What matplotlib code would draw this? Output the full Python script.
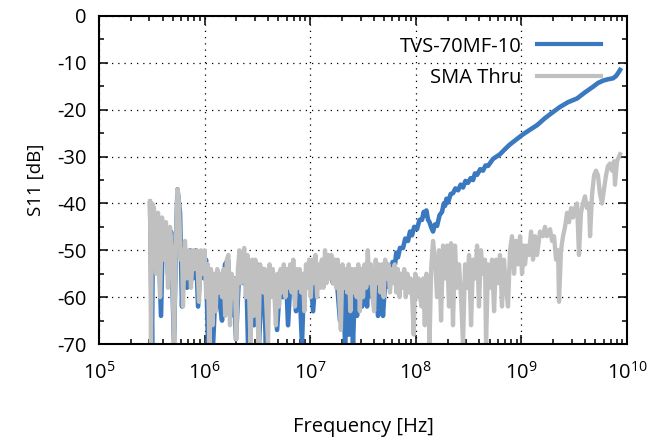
import numpy as np
import matplotlib
matplotlib.use("Agg")
import matplotlib.pyplot as plt
from matplotlib.ticker import LogLocator, MultipleLocator, NullFormatter

plt.rcParams['font.family'] = ['Open Sans', 'DejaVu Sans']
plt.rcParams['mathtext.fontset'] = 'custom'
plt.rcParams['mathtext.rm'] = 'Open Sans'
plt.rcParams['axes.unicode_minus'] = False

# SMA Thru trace (log10 of frequency in Hz, S11 in dB)
gray_logf = [
    5.483, 5.492, 5.502, 5.521, 5.540, 5.559, 5.578, 5.597, 5.616, 5.634,
    5.653, 5.672, 5.691, 5.710, 5.729, 5.743, 5.758, 5.772, 5.786, 5.795,
    5.814, 5.833, 5.852, 5.871, 5.890, 5.909, 5.928, 5.947, 5.966, 5.985,
    6.000, 6.015, 6.030, 6.045, 6.060, 6.075, 6.090, 6.105, 6.120, 6.135,
    6.150, 6.165, 6.180, 6.195, 6.210, 6.225, 6.240, 6.255, 6.270, 6.285,
    6.300, 6.315, 6.330, 6.345, 6.360, 6.375, 6.390, 6.405, 6.420, 6.435,
    6.450, 6.465, 6.480, 6.495, 6.510, 6.525, 6.540, 6.555, 6.570, 6.585,
    6.600, 6.615, 6.630, 6.645, 6.660, 6.675, 6.690, 6.705, 6.720, 6.735,
    6.750, 6.765, 6.780, 6.795, 6.810, 6.825, 6.840, 6.855, 6.870, 6.885,
    6.900, 6.915, 6.930, 6.945, 6.960, 6.975, 6.990, 7.005, 7.020, 7.035,
    7.050, 7.065, 7.080, 7.095, 7.110, 7.125, 7.140, 7.155, 7.170, 7.185,
    7.200, 7.215, 7.230, 7.245, 7.260, 7.275, 7.290, 7.305, 7.320, 7.335,
    7.350, 7.365, 7.380, 7.395, 7.410, 7.425, 7.440, 7.455, 7.470, 7.485,
    7.500, 7.515, 7.530, 7.545, 7.560, 7.575, 7.590, 7.605, 7.620, 7.635,
    7.650, 7.665, 7.680, 7.695, 7.710, 7.725, 7.740, 7.755, 7.770, 7.785,
    7.800, 7.815, 7.830, 7.845, 7.860, 7.875, 7.890, 7.905, 7.920, 7.935,
    7.950, 7.965, 7.980, 7.995, 8.010, 8.025, 8.040, 8.055, 8.070, 8.085,
    8.100, 8.115, 8.130, 8.145, 8.163,
    8.182, 8.201, 8.220, 8.239, 8.258, 8.277, 8.295, 8.314, 8.333, 8.352,
    8.371, 8.390, 8.409, 8.428, 8.447, 8.466, 8.485, 8.504, 8.523, 8.542,
    8.561, 8.580, 8.598, 8.617, 8.636, 8.655, 8.665, 8.684, 8.703, 8.722,
    8.741, 8.759, 8.778, 8.797, 8.816, 8.835, 8.854, 8.873, 8.892, 8.911,
    8.930, 8.949, 8.968, 8.987, 9.006, 9.025, 9.034, 9.053, 9.072, 9.091,
    9.110, 9.129, 9.148, 9.176, 9.205, 9.223, 9.242, 9.271, 9.290, 9.309,
    9.328, 9.347, 9.356, 9.375, 9.394, 9.413, 9.432, 9.451, 9.470, 9.489,
    9.508, 9.527, 9.545, 9.564, 9.583, 9.602, 9.621, 9.640, 9.650, 9.669,
    9.688, 9.706, 9.725, 9.744, 9.763, 9.782, 9.801, 9.820, 9.839, 9.858,
    9.877, 9.886, 9.905, 9.924, 9.934,
]
gray_db = [
    -39.5, -70, -40, -41, -55, -42, -60, -43, -52, -44,
    -58, -45, -50, -70, -48, -37, -40, -52, -50, -62,
    -48, -56, -50, -58, -50, -54, -50, -61, -50, -55,
    -50, -60, -53, -70, -54, -66, -55, -63, -54, -59,
    -55, -60, -54, -64, -52, -51, -66, -55, -60, -56,
    -69, -54, -50, -57, -53, -49.5, -60, -51, -58, -70,
    -52, -64, -52, -58, -70, -53, -55, -59, -54, -62,
    -70, -53, -60, -54, -59, -66, -55, -62, -54, -59,
    -53, -60, -54, -58, -53, -59, -52, -62, -54, -58,
    -54, -59, -55, -63, -53, -58, -52, -60, -52, -57,
    -51, -60, -53, -58, -52, -58, -50, -57, -51, -56,
    -51, -57, -52, -58, -52, -60, -67, -53, -58, -54,
    -59, -53, -63, -54, -59, -54, -60, -53, -63, -54,
    -60, -53, -58, -50, -57, -53, -60, -63, -52, -57,
    -53, -59, -53, -60, -52, -56, -53, -59, -54, -57,
    -53, -59, -54, -60, -55, -58, -54, -60, -55, -59,
    -56, -60, -68, -55, -60, -56, -60, -62, -56, -66,
    -55, -57, -70, -54, -48,
    -52, -60, -50, -65, -49, -56, -49, -62, -48.5, -66,
    -49, -58, -53, -60, -70, -53, -58, -51, -66, -52,
    -56, -49, -62, -50, -55, -52, -70, -53, -58, -52,
    -63, -52, -57, -51, -62, -52, -58, -62, -50, -47,
    -55, -48, -53, -47, -55, -49, -53, -49, -51, -46,
    -52, -47, -51, -46, -47, -45, -47, -45.5, -48, -47,
    -52, -50, -61, -50, -47, -45, -42, -44, -41, -43,
    -41, -40, -51, -42, -40, -38.5, -41, -40, -47, -38,
    -34, -33, -34, -38, -40, -37, -34, -32, -31.5, -33,
    -31, -36, -31, -30, -29.5,
]

# TVS-70MF-10 trace
blue_logf = [
    5.483, 5.502, 5.511, 5.540, 5.559, 5.587, 5.606, 5.634, 5.653, 5.682,
    5.710, 5.729, 5.743, 5.767, 5.786, 5.805, 5.833, 5.862, 5.890, 5.919,
    5.938, 5.966, 5.994, 6.013, 6.032, 6.051, 6.080, 6.108, 6.136, 6.165,
    6.193, 6.222, 6.250, 6.278, 6.297, 6.326, 6.345, 6.364, 6.392, 6.411,
    6.439, 6.468, 6.496, 6.515, 6.544, 6.563, 6.581, 6.600, 6.629, 6.657,
    6.686, 6.714, 6.742, 6.771, 6.790, 6.818, 6.847, 6.866, 6.894, 6.922,
    6.941, 6.970, 6.998, 7.027, 7.055, 7.083, 7.112, 7.140, 7.169, 7.188,
    7.216, 7.244, 7.282, 7.311, 7.330, 7.348, 7.367, 7.386, 7.405, 7.424,
    7.443, 7.462, 7.491, 7.519, 7.538, 7.557, 7.585, 7.614, 7.642, 7.661,
    7.689, 7.708, 7.737, 7.750, 7.765, 7.780, 7.803, 7.815, 7.831, 7.850,
    7.879, 7.900, 7.926, 7.945, 7.964, 7.985, 8.011, 8.035, 8.059, 8.075,
    8.087, 8.100, 8.116, 8.130, 8.144, 8.163, 8.180, 8.201, 8.225, 8.248,
    8.265, 8.277, 8.290, 8.305, 8.330, 8.352, 8.375, 8.400, 8.425, 8.447,
    8.470, 8.494, 8.520, 8.542, 8.560, 8.580, 8.610, 8.636, 8.660, 8.684,
    8.731, 8.797, 8.845, 8.892, 8.949, 9.006, 9.072, 9.148, 9.223, 9.299,
    9.366, 9.441, 9.527, 9.602, 9.678, 9.725, 9.773, 9.820, 9.867, 9.896,
    9.915, 9.934,
]
blue_db = [
    -40, -70, -41, -45, -43, -64, -44, -46, -55, -46,
    -70, -48, -37, -42, -62, -49, -58, -50, -56, -50,
    -62, -51, -56, -52, -70, -55, -70, -56, -60, -65,
    -53, -52, -64, -56, -69, -55, -51, -57, -52, -70,
    -53, -66, -53, -70, -54, -60, -70, -55, -58, -56,
    -67, -57, -60, -55, -66, -54, -58, -63, -55, -70,
    -56, -58, -54, -63, -54, -58, -53, -56, -53, -55,
    -57, -54, -65, -56, -70, -58, -68, -56, -70, -57,
    -64, -55, -62, -55, -62, -54, -60, -56, -64, -55,
    -64, -57, -57.8, -54, -55.5, -52.5, -53, -50.5, -51.5, -49.5,
    -49.5, -47.5, -48, -46, -46.8, -45, -45.5, -43.5, -43.5, -41.8,
    -42.5, -41.5, -43.5, -44, -45, -46, -44.5, -44.8, -42.5, -41.8,
    -40, -40.5, -39, -39.8, -38, -37.8, -36.8, -37.2, -36, -36.6,
    -35.2, -35.6, -34.6, -35, -33.6, -33.9, -32.7, -33, -31.9, -32,
    -30.5, -29.5, -28.4, -27.4, -26.4, -25.4, -24.4, -23.3, -21.8, -20.5,
    -19.4, -18.4, -17.6, -16.3, -15.1, -14.3, -13.8, -13.5, -13.3, -12.8,
    -12.2, -11.5,
]

blue_f = 10 ** np.array(blue_logf)
gray_f = 10 ** np.array(gray_logf)

fig = plt.figure(figsize=(6.61, 4.37), dpi=100)
ax = fig.add_axes([0.1498, 0.2128, 0.7988, 0.7506])

ax.plot(blue_f, blue_db, color="#3a78c0", lw=3.3, label="TVS-70MF-10",
        solid_joinstyle="round")
ax.plot(gray_f, gray_db, color="#c0c0c0", lw=3.1, label="SMA Thru",
        solid_joinstyle="round")

ax.set_xscale("log")
ax.set_xlim(1e5, 1e10)
ax.set_ylim(-70, 0)
ax.xaxis.set_major_locator(LogLocator(base=10, numticks=10))
ax.xaxis.set_minor_locator(LogLocator(base=10, subs=np.arange(2, 10), numticks=20))
ax.xaxis.set_minor_formatter(NullFormatter())
ax.yaxis.set_major_locator(MultipleLocator(10))
ax.yaxis.set_minor_locator(MultipleLocator(5))

ax.grid(True, which="major", color="black", linestyle=(0, (1, 4)), lw=0.9)
ax.tick_params(which="both", direction="in", top=True, right=True, width=1.1,
               labelsize=14.5)
ax.tick_params(which="major", length=6.5)
ax.tick_params(which="minor", length=3.5)
ax.tick_params(axis="y", pad=9)
ax.tick_params(axis="x", pad=13)
for s in ax.spines.values():
    s.set_linewidth(1.5)

ax.set_xlabel("Frequency [Hz]", fontsize=14.5, labelpad=24)
ax.set_ylabel("S11 [dB]", fontsize=13.5, labelpad=9)

leg = ax.legend(loc="upper right", bbox_to_anchor=(0.966, 0.962), frameon=False,
                markerfirst=False, handlelength=3.2, handletextpad=0.75,
                labelspacing=0.55, fontsize=14.5, borderaxespad=0)
for line in leg.get_lines():
    line.set_linewidth(3.0)

fig.savefig("out.png", dpi=100)
